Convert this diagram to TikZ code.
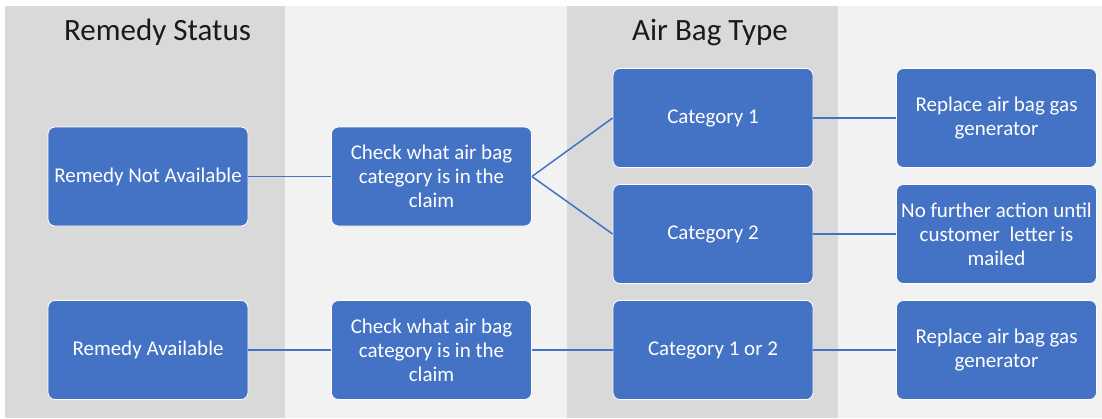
\documentclass[tikz,border=0pt]{standalone}
\usepackage{fontspec}
\setmainfont{Carlito}
\usetikzlibrary{calc}

\definecolor{boxblue}{HTML}{4472C4}
\definecolor{lanedark}{HTML}{D9D9D9}
\definecolor{lanelight}{HTML}{F2F2F2}
\definecolor{titleblack}{HTML}{1A1A1A}

\begin{document}
\begin{tikzpicture}[x=1pt,y=-1pt,
		flowbox/.style={fill=boxblue, draw=white, line width=0.8pt, rounded corners=7pt,
			minimum width=200pt, minimum height=99pt, inner sep=0pt, align=center,
			text=white, font=\fontsize{21}{24}\selectfont},
		lanetitle/.style={anchor=base, text=titleblack, inner sep=0pt, font=\fontsize{31}{36}\selectfont},
		link/.style={draw=boxblue, line width=1.5pt}]
			\useasboundingbox (0,0) rectangle (1102,418);
			\fill[white] (0,0) rectangle (1102,418);
			\fill[lanedark] (5,6) rectangle (285,418);
			\fill[lanelight] (285,6) rectangle (567,418);
			\fill[lanedark] (567,6) rectangle (838,418);
			\fill[lanelight] (838,6) rectangle (1102,418);

			\coordinate (origin) at (0,0);

			\node[lanetitle] (status) at ($(origin)+(157.5,40)$) {Remedy Status};
			\node[lanetitle] (bagtype) at ($(origin)+(710,40)$) {Air Bag Type};

			%upper row: remedy not available
			\node[flowbox] (RN) at ($(origin)+(148,176.5)$) {Remedy Not Available};
			\node[flowbox] (CK1) at ($(RN)+(283.5,0)$) {Check what air bag\\category is in the\\claim};
			\node[flowbox] (C1) at ($(CK1)+(281.5,-58.5)$) {Category 1};
			\node[flowbox] (C2) at ($(CK1)+(281.5,57.5)$) {Category 2};
			\node[flowbox] (A1) at ($(C1)+(283.5,0)$) {Replace air bag gas\\generator};
			\node[flowbox] (A2) at ($(C2)+(283.5,0)$) {No further action until\\customer\ \ letter is\\mailed};

			%lower row: remedy available
			\node[flowbox] (RA) at ($(RN)+(0,173.5)$) {Remedy Available};
			\node[flowbox] (CK2) at ($(RA)+(283.5,0)$) {Check what air bag\\category is in the\\claim};
			\node[flowbox] (C12) at ($(CK2)+(281.5,0)$) {Category 1 or 2};
			\node[flowbox] (A3) at ($(C12)+(283.5,0)$) {Replace air bag gas\\generator};

			\draw[link] (RN.east) -- (CK1.west);
			\draw[link] (CK1.east) -- (C1.west);
			\draw[link] (CK1.east) -- (C2.west);
			\draw[link] (C1.east) -- (A1.west);
			\draw[link] (C2.east) -- (A2.west);

			\draw[link] (RA.east) -- (CK2.west);
			\draw[link] (CK2.east) -- (C12.west);
			\draw[link] (C12.east) -- (A3.west);
\end{tikzpicture}
\end{document}
